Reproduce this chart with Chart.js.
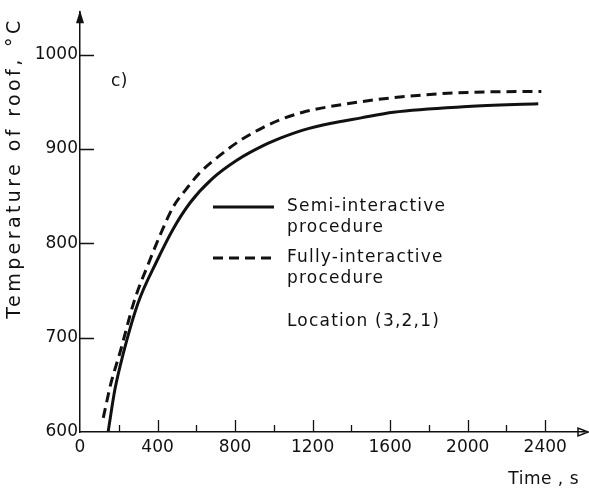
<!DOCTYPE html>
<html>
<head>
<meta charset="utf-8">
<script src="https://cdn.jsdelivr.net/npm/chart.js@4"></script>
<style>
  html, body { margin: 0; padding: 0; background: #fff; }
  #wrap { width: 589px; height: 494px; }
</style>
</head>
<body>
<div id="wrap"><canvas id="roofChart" width="589" height="494"></canvas></div>
<script>
// Temperature of roof vs time, location (3,2,1)

// time values (s) and temperatures (°C) for each curve
const semiTime = [145, 180, 223, 300, 396, 480, 568, 680, 809, 950, 1040, 1150, 1290, 1450, 1616, 2000, 2364];
const semiTemp = [600, 645, 683, 737, 781, 815, 843, 868, 888, 904, 912, 920, 927, 933, 939, 945, 948];

const fullyTime = [120, 160, 206, 280, 358, 420, 482, 550, 619, 720, 826, 946, 1032, 1150, 1290, 1600, 2000, 2380];
const fullyTemp = [615, 652, 684, 739, 781, 812, 839, 858, 875, 893, 909, 923, 931, 939, 945, 954, 960, 961];

const xLabels = [0, 400, 800, 1200, 1600, 2000, 2400];
const xMinorTicks = [200, 600, 1000, 1400, 1800, 2200];
const yLabels = [600, 700, 800, 900, 1000];

const legendItems = [
    { lines: ['Semi-interactive', 'procedure'], dash: [] },
    { lines: ['Fully-interactive', 'procedure'], dash: [10, 6] }
];
const locationText = 'Location (3,2,1)';

const FONT = '"DejaVu Sans", sans-serif';
const INK = '#111';

function toPoints(xs, ys) {
    return xs.map((x, i) => ({ x: x, y: ys[i] }));
}

// ticks, arrows, legend and labels drawn on top of the chart
const decorations = {
    id: 'decorations',
    afterDraw(chart) {
        const ctx = chart.ctx;
        const xs = chart.scales.x;
        const ys = chart.scales.y;
        const area = chart.chartArea;
        const x0 = xs.getPixelForValue(0);
        const y0 = ys.getPixelForValue(600);

        ctx.save();
        ctx.strokeStyle = INK;
        ctx.fillStyle = INK;
        ctx.lineWidth = 1.3;

        // x ticks pointing up into the plot
        ctx.beginPath();
        xLabels.slice(1).forEach(v => {
            const px = Math.round(xs.getPixelForValue(v)) + 0.5;
            ctx.moveTo(px, y0); ctx.lineTo(px, y0 - 12);
        });
        xMinorTicks.forEach(v => {
            const px = Math.round(xs.getPixelForValue(v)) + 0.5;
            ctx.moveTo(px, y0); ctx.lineTo(px, y0 - 7);
        });
        // y ticks pointing right
        yLabels.slice(1).forEach(v => {
            const py = Math.round(ys.getPixelForValue(v)) + 0.5;
            ctx.moveTo(x0, py); ctx.lineTo(x0 + 14, py);
        });
        ctx.stroke();

        // arrow heads
        ctx.beginPath();
        ctx.moveTo(x0, area.top - 2);
        ctx.lineTo(x0 - 4, area.top + 11);
        ctx.lineTo(x0 + 4, area.top + 11);
        ctx.closePath();
        ctx.fill();

        ctx.beginPath();
        ctx.moveTo(area.right + 4, y0);
        ctx.lineTo(area.right - 6, y0 - 4);
        ctx.lineTo(area.right - 6, y0 + 4);
        ctx.closePath();
        ctx.lineWidth = 1.5;
        ctx.stroke();

        // legend
        ctx.font = '17px ' + FONT;
        ctx.letterSpacing = '1.2px';
        ctx.textBaseline = 'middle';
        ctx.textAlign = 'left';
        ctx.lineWidth = 3;
        let ly = 207;
        legendItems.forEach(item => {
            ctx.setLineDash(item.dash);
            ctx.beginPath();
            ctx.moveTo(213, ly);
            ctx.lineTo(274, ly);
            ctx.stroke();
            ctx.setLineDash([]);
            item.lines.forEach((t, i) => ctx.fillText(t, 287, ly + i * 21));
            ly += 51;
        });
        ctx.fillText(locationText, 287, 322);

        ctx.letterSpacing = '0.5px';
        ctx.fillText('c)', 111, 82);

        // axis titles
        ctx.textAlign = 'right';
        ctx.fillText('Time , s', 579, 480);

        ctx.translate(15, 168);
        ctx.rotate(-Math.PI / 2);
        ctx.textAlign = 'center';
        ctx.font = '19px ' + FONT;
        const title = 'Temperature of roof, \u00B0C';
        ctx.letterSpacing = '0px';
        const w = ctx.measureText(title).width;
        ctx.letterSpacing = Math.max(0, (298 - w) / (title.length - 1)).toFixed(2) + 'px';
        ctx.fillText(title, 0, 0);
        ctx.restore();
    }
};

new Chart(document.getElementById('roofChart'), {
    type: 'line',
    data: {
        datasets: [
            {
                label: 'Semi-interactive procedure',
                data: toPoints(semiTime, semiTemp),
                borderColor: INK,
                borderWidth: 3,
                pointRadius: 0,
                cubicInterpolationMode: 'monotone',
                fill: false
            },
            {
                label: 'Fully-interactive procedure',
                data: toPoints(fullyTime, fullyTemp),
                borderColor: INK,
                borderWidth: 3,
                borderDash: [10, 6],
                pointRadius: 0,
                cubicInterpolationMode: 'monotone',
                fill: false
            }
        ]
    },
    options: {
        responsive: false,
        animation: false,
        layout: { padding: { top: 7, right: 5, left: 0, bottom: 0 } },
        plugins: {
            legend: { display: false },
            tooltip: { enabled: false }
        },
        scales: {
            x: {
                type: 'linear',
                min: 0,
                max: 2600,
                grid: { display: false, drawTicks: false },
                border: { display: true, color: INK, width: 1.5 },
                afterBuildTicks: s => { s.ticks = xLabels.map(v => ({ value: v })); },
                ticks: {
                    autoSkip: false,
                    padding: 5,
                    color: INK,
                    maxRotation: 0,
                    font: { family: FONT, size: 17 },
                    callback: v => String(v)
                },
                afterFit: s => { s.height = 62; }
            },
            y: {
                min: 600,
                max: 1045,
                grid: { display: false, drawTicks: false },
                border: { display: true, color: INK, width: 1.5 },
                afterBuildTicks: s => { s.ticks = yLabels.map(v => ({ value: v })); },
                ticks: {
                    autoSkip: false,
                    padding: 2,
                    color: INK,
                    font: { family: FONT, size: 17 },
                    callback: v => String(v)
                },
                afterFit: s => { s.width = 80; }
            }
        }
    },
    plugins: [decorations]
});
</script>
</body>
</html>
